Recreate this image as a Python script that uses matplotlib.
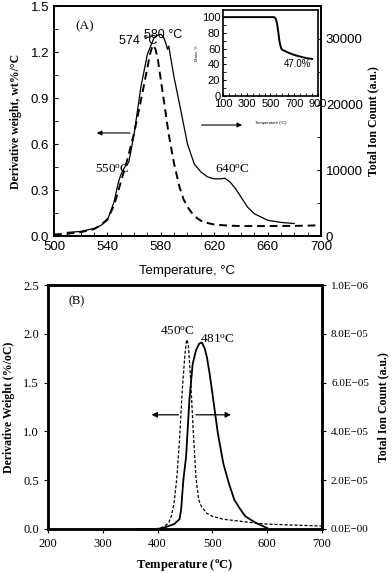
import numpy as np
import matplotlib
matplotlib.use('Agg')
import matplotlib.pyplot as plt
from matplotlib.ticker import MultipleLocator

plt.rcParams['font.family'] = ['Liberation Sans', 'DejaVu Sans']
plt.rcParams['mathtext.fontset'] = 'custom'
plt.rcParams['mathtext.rm'] = 'Liberation Serif'

# panel A: derivative weight (left axis, dashed)
tA_dtg = [500, 510, 520, 530, 535, 540, 545, 550, 555, 560, 565, 570, 572, 574, 576, 578, 580,
          583, 586, 590, 594, 597, 600, 605, 610, 615, 620, 630, 640, 660, 680, 700]
dtgA = [0.01, 0.015, 0.025, 0.045, 0.07, 0.11, 0.2, 0.35, 0.5, 0.67, 0.88, 1.1, 1.19, 1.245, 1.22, 1.14,
        1.02, 0.84, 0.66, 0.47, 0.32, 0.24, 0.19, 0.13, 0.1, 0.085, 0.075, 0.068, 0.065, 0.065, 0.066, 0.07]
# panel A: total ion count (right axis, solid)
tA_tic = [510, 520, 530, 535, 540, 545, 548, 550, 553, 556, 560, 565, 570, 575, 578, 580, 582, 584,
          585, 586, 587, 590, 595, 600, 605, 610, 615, 620, 625, 628, 632, 636, 640, 645, 650, 660, 670, 680]
ticA = [550, 700, 1160, 1600, 2400, 5200, 8000, 9300, 10500, 11200, 15500, 22600, 27700, 30200, 30600, 30700,
        30300, 29200, 28400, 28900, 27600, 24100, 19100, 14000, 11000, 9750, 9000, 8700, 8700, 8800, 8200,
        7200, 5960, 4400, 3400, 2400, 2070, 1900]

# inset: mass loss
t_mass = [100, 300, 500, 530, 545, 555, 565, 575, 585, 592, 600, 650, 700, 750, 800, 850]
mass = [100, 100, 100, 100, 98, 92, 82, 70, 63, 60, 58.5, 55, 52, 50, 48, 47]

# panel B: derivative weight (left axis, dashed)
tB_dtg = [360, 400, 410, 420, 425, 430, 435, 440, 445, 450, 453, 456, 460, 465, 470, 475, 480,
          490, 500, 520, 550, 580, 600, 650, 700]
dtgB = [0.0, 0.005, 0.02, 0.06, 0.13, 0.26, 0.52, 0.91, 1.42, 1.8, 1.94, 1.9, 1.56, 1.01, 0.53, 0.3,
        0.23, 0.16, 0.13, 0.1, 0.08, 0.06, 0.05, 0.04, 0.03]
# panel B: total ion count (right axis, solid), units of 1e-5
tB_tic = [365, 400, 410, 420, 430, 440, 443, 447, 452, 458, 464, 470, 476, 481, 486, 490, 495, 500,
          510, 520, 530, 540, 550, 560, 580, 600]
ticB = [0.0, 0.0, 0.04, 0.12, 0.2, 0.4, 0.8, 2.0, 2.96, 5.28, 6.76, 7.32, 7.6, 7.64, 7.4, 7.04, 6.36, 5.56,
        3.92, 2.68, 1.88, 1.2, 0.84, 0.52, 0.24, 0.04]

ticklabelsB_right = ['0.0E\u221200', '2.0E\u221205', '4.0E\u221205', '6.0E\u221205', '8.0E\u221205', '1.0E\u221206']

fig = plt.figure(figsize=(3.92, 5.73), dpi=100)
serif = 'Liberation Serif'

# ---------------- panel A ----------------
ax1 = fig.add_axes([0.1378, 0.5881, 0.681, 0.4014])
ax1.plot(tA_dtg, dtgA, color='black', lw=1.4, ls=(0, (4, 2.5)))
ax1.set_xlim(500, 700)
ax1.set_ylim(0, 1.5)
ax1.set_xticks([500, 540, 580, 620, 660, 700])
ax1.set_yticks([0, 0.3, 0.6, 0.9, 1.2, 1.5])
ax1.set_yticklabels(['0.0', '0.3', '0.6', '0.9', '1.2', '1.5'])
ax1.xaxis.set_minor_locator(MultipleLocator(10))
ax1.yaxis.set_minor_locator(MultipleLocator(0.15))
ax1.tick_params(which='both', direction='in', labelsize=9.5, length=3)
ax1.set_xlabel('Temperature, \u00b0C', fontsize=9.5, labelpad=9)
ax1.set_ylabel('Derivative weight, wt%/\u00b0C', fontsize=8.5, family=serif, fontweight='bold', labelpad=6)
for s in ax1.spines.values():
    s.set_linewidth(1.3)

ax1r = ax1.twinx()
ax1r.plot(tA_tic, ticA, color='black', lw=0.9)
ax1r.set_ylim(0, 35000)
ax1r.set_yticks([0, 10000, 20000, 30000])
ax1r.yaxis.set_minor_locator(MultipleLocator(5000))
ax1r.tick_params(which='both', direction='in', labelsize=9.5, length=3)
ax1r.set_ylabel('Total Ion Count (a.u.)', fontsize=8.5, family=serif, fontweight='bold', labelpad=3)
for s in ax1r.spines.values():
    s.set_linewidth(1.3)

ax1.text(0.08, 0.9, '(A)', transform=ax1.transAxes, fontsize=9.5, family=serif)
ax1.annotate('', xy=(530, 0.672), xytext=(559, 0.672),
             arrowprops=dict(arrowstyle='-|>', color='black', lw=0.8, mutation_scale=7))
ax1.annotate('', xy=(643, 0.724), xytext=(608.5, 0.724),
             arrowprops=dict(arrowstyle='-|>', color='black', lw=0.8, mutation_scale=7))
ax1.text(563, 1.275, '574 \u00b0C', fontsize=9, ha='center', va='center')
ax1.text(582, 1.31, '580 \u00b0C', fontsize=9, ha='center', va='center')
ax1.text(544, 0.43, r'550$\mathregular{^{o}}$C', fontsize=9.5, family=serif, ha='center', va='center')
ax1.text(634, 0.43, r'640$\mathregular{^{o}}$C', fontsize=9.5, family=serif, ha='center', va='center')

# inset
axi = fig.add_axes([0.569, 0.8325, 0.242, 0.150])
axi.plot(t_mass, mass, color='black', lw=1.4)
axi.set_xlim(100, 900)
axi.set_ylim(0, 109)
axi.set_xticks([100, 300, 500, 700, 900])
axi.set_yticks([0, 20, 40, 60, 80, 100])
axi.xaxis.set_minor_locator(MultipleLocator(50))
axi.yaxis.set_minor_locator(MultipleLocator(10))
axi.tick_params(which='both', direction='in', labelsize=8, length=2, pad=2)
axi.set_xlabel('Temperature (\u00b0C)', fontsize=3, labelpad=9)
axi.set_ylabel('Mass, %', fontsize=3, labelpad=2)
axi.text(845, 40, '47.0%', fontsize=7, ha='right', va='center')
for s in axi.spines.values():
    s.set_linewidth(1.2)

# ---------------- panel B ----------------
ax2 = fig.add_axes([0.1224, 0.0768, 0.699, 0.4258])
ax2.plot(tB_dtg, dtgB, color='black', lw=0.9, ls=(0, (2.5, 1.5)))
ax2.set_xlim(200, 700)
ax2.set_ylim(0, 2.5)
ax2.set_xticks([200, 300, 400, 500, 600, 700])
ax2.set_yticks([0, 0.5, 1.0, 1.5, 2.0, 2.5])
ax2.set_yticklabels(['0.0', '0.5', '1.0', '1.5', '2.0', '2.5'])
ax2.tick_params(direction='out', labelsize=9, length=3)
for lab in ax2.get_xticklabels() + ax2.get_yticklabels():
    lab.set_family(serif)
ax2.set_xlabel(r'Temperature ($\mathregular{^{o}}$C)', fontsize=9, family=serif, fontweight='bold', labelpad=5)
ax2.set_ylabel('Derivative Weight (%/oC)', fontsize=8.5, family=serif, fontweight='bold', labelpad=6)
for s in ax2.spines.values():
    s.set_linewidth(1.8)

ax2r = ax2.twinx()
ax2r.plot(tB_tic, [v * 1e-5 for v in ticB], color='black', lw=1.3)
ax2r.set_ylim(0, 1.0e-4)
ax2r.set_yticks([0, 2e-5, 4e-5, 6e-5, 8e-5, 1e-4])
ax2r.set_yticklabels(ticklabelsB_right)
ax2r.tick_params(direction='out', labelsize=8, length=3)
for lab in ax2r.get_yticklabels():
    lab.set_family(serif)
ax2r.set_ylabel('Total Ion Count (a.u.)', fontsize=8.5, family=serif, fontweight='bold', labelpad=6)
for s in ax2r.spines.values():
    s.set_linewidth(1.8)

ax2.text(0.075, 0.92, '(B)', transform=ax2.transAxes, fontsize=9, family=serif)
ax2.text(436, 2.02, r'450$\mathregular{^{o}}$C', fontsize=9.5, family=serif, ha='center', va='center')
ax2.text(509, 1.94, r'481$\mathregular{^{o}}$C', fontsize=9.5, family=serif, ha='center', va='center')
ax2.annotate('', xy=(384, 1.17), xytext=(443, 1.17),
             arrowprops=dict(arrowstyle='-|>', color='black', lw=0.9, mutation_scale=8))
ax2.annotate('', xy=(539, 1.17), xytext=(465, 1.17),
             arrowprops=dict(arrowstyle='-|>', color='black', lw=0.9, mutation_scale=8))

fig.savefig('out.png', dpi=100)
